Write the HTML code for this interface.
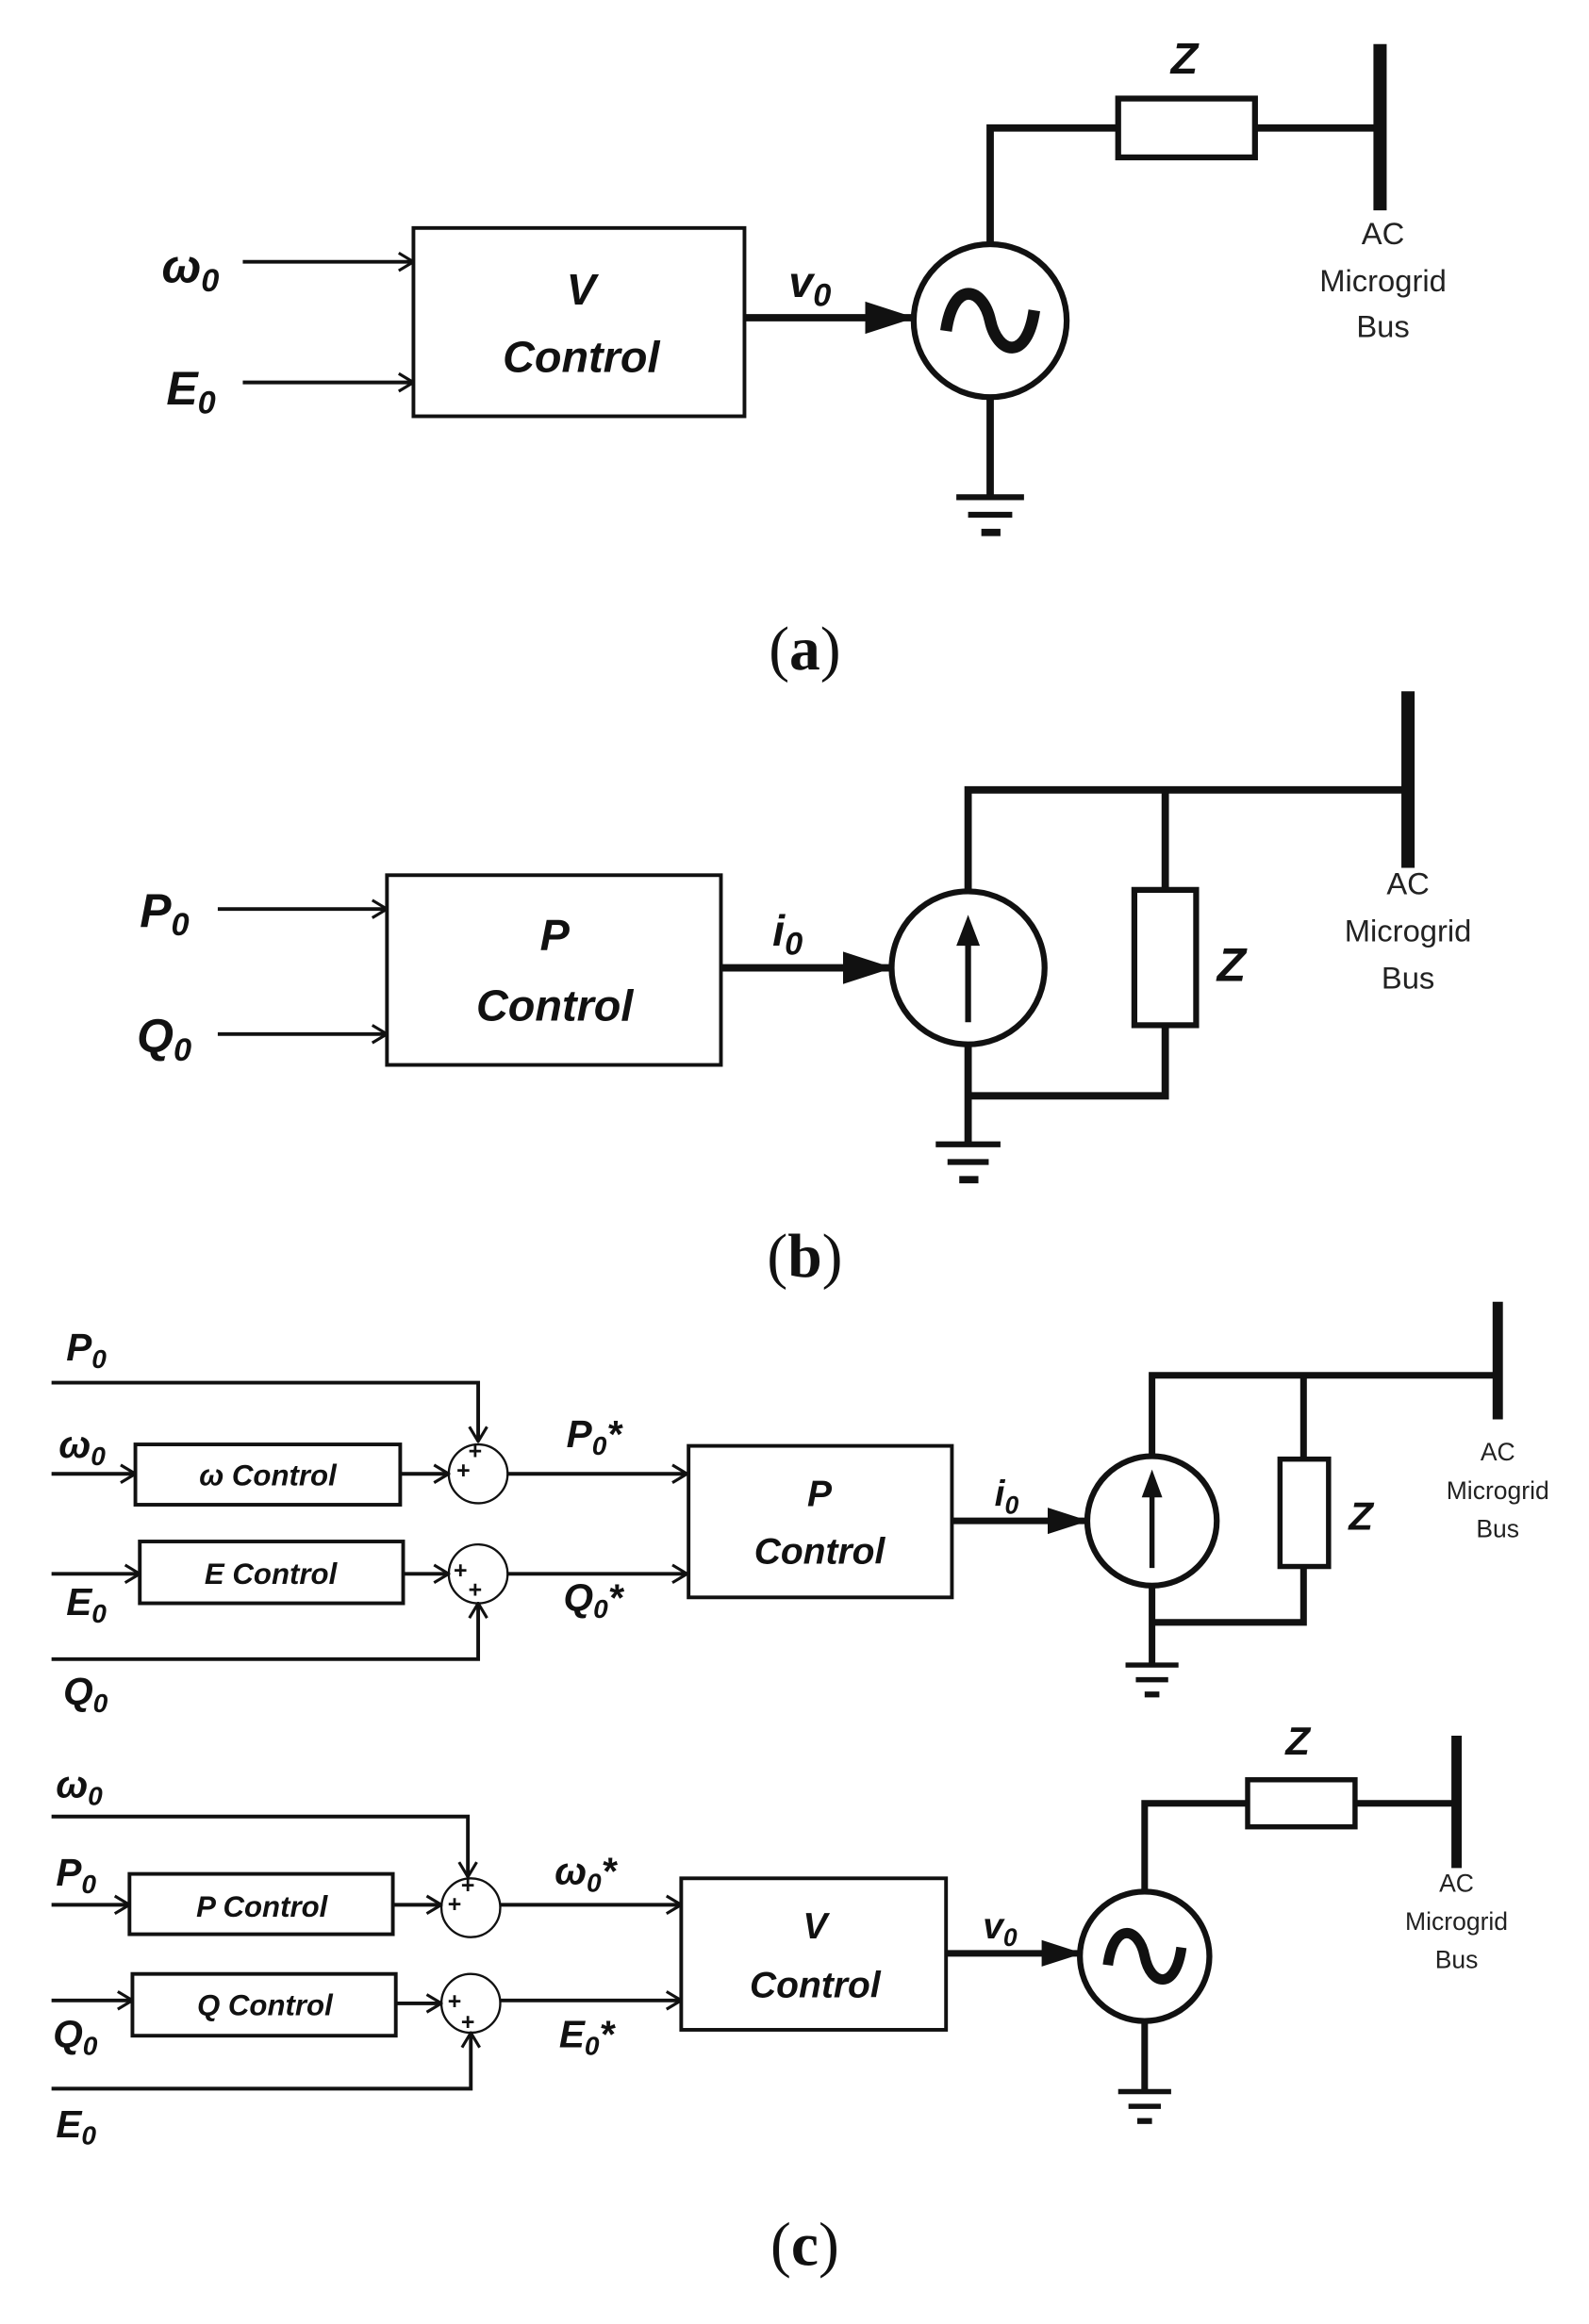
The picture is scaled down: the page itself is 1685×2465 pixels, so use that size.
<!DOCTYPE html>
<html><head><meta charset="utf-8"><style>
html,body{margin:0;padding:0;background:#fff}
svg{display:block}
text{font-family:"Liberation Sans",sans-serif;font-weight:bold;font-style:italic;fill:#111}
.t{font-weight:normal;font-style:normal;fill:#222}
.s{font-family:"Liberation Serif",serif;font-style:normal;font-weight:normal}
</style></head><body>
<svg width="1685" height="2465" viewBox="0 0 1080 1580" xmlns="http://www.w3.org/2000/svg">
<defs>
<marker id="op" markerWidth="12" markerHeight="14" refX="11" refY="7" orient="auto" markerUnits="userSpaceOnUse">
<path d="M1,1 L11,7 L1,13" fill="none" stroke="#111" stroke-width="2"/></marker>
<marker id="fl" markerWidth="34" markerHeight="24" refX="33" refY="12" orient="auto" markerUnits="userSpaceOnUse">
<path d="M0,1 L34,12 L0,23 Z" fill="#111"/></marker>
<marker id="fs" markerWidth="28" markerHeight="20" refX="27" refY="10" orient="auto" markerUnits="userSpaceOnUse">
<path d="M0,1 L28,10 L0,19 Z" fill="#111"/></marker>
</defs>
<g stroke="#111" fill="none">
<!-- (a) -->
<line x1="165" y1="178" x2="281" y2="178" stroke-width="2.5" marker-end="url(#op)"/>
<line x1="165" y1="260" x2="281" y2="260" stroke-width="2.5" marker-end="url(#op)"/>
<rect x="281" y="155" width="225" height="128" stroke-width="2.5"/>
<line x1="506" y1="216" x2="621" y2="216" stroke-width="5" marker-end="url(#fl)"/>
<circle cx="673" cy="218" r="52" stroke-width="4"/>
<path d="M643,225 C648,190 668,195 673,218 C678,241 698,246 703,211" stroke-width="8"/>
<polyline points="673,166 673,87 760,87" stroke-width="5"/>
<rect x="760" y="67" width="93" height="40" stroke-width="4"/>
<line x1="853" y1="87" x2="938" y2="87" stroke-width="5"/>
<line x1="938" y1="30" x2="938" y2="143" stroke-width="9"/>
<line x1="673" y1="270" x2="673" y2="337" stroke-width="5"/>
<line x1="650" y1="338" x2="696" y2="338" stroke-width="4"/>
<line x1="658" y1="350" x2="688" y2="350" stroke-width="4"/>
<line x1="667" y1="362" x2="680" y2="362" stroke-width="5"/>
<!-- (b) -->
<line x1="148" y1="618" x2="263" y2="618" stroke-width="2.5" marker-end="url(#op)"/>
<line x1="148" y1="703" x2="263" y2="703" stroke-width="2.5" marker-end="url(#op)"/>
<rect x="263" y="595" width="227" height="129" stroke-width="2.5"/>
<line x1="490" y1="658" x2="606" y2="658" stroke-width="5" marker-end="url(#fl)"/>
<circle cx="658" cy="658" r="52" stroke-width="4"/>
<line x1="658" y1="695" x2="658" y2="640" stroke-width="4"/>
<path d="M650,643 L658,622 L666,643 Z" fill="#111" stroke="none"/>
<polyline points="658,606 658,537 957,537" stroke-width="5"/>
<line x1="957" y1="470" x2="957" y2="590" stroke-width="9"/>
<line x1="792" y1="537" x2="792" y2="605" stroke-width="5"/>
<rect x="771" y="605" width="42" height="92" stroke-width="4"/>
<polyline points="792,697 792,745 658,745" stroke-width="5"/>
<line x1="658" y1="710" x2="658" y2="777" stroke-width="5"/>
<line x1="636" y1="778" x2="680" y2="778" stroke-width="4"/>
<line x1="644" y1="790" x2="672" y2="790" stroke-width="4"/>
<line x1="652" y1="802" x2="665" y2="802" stroke-width="5"/>
<!-- (c) top -->
<polyline points="35,940 325,940 325,980" stroke-width="2.5" marker-end="url(#op)"/>
<line x1="35" y1="1002" x2="92" y2="1002" stroke-width="2.5" marker-end="url(#op)"/>
<rect x="92" y="982" width="180" height="41" stroke-width="2.5"/>
<line x1="272" y1="1002" x2="305" y2="1002" stroke-width="2.5" marker-end="url(#op)"/>
<circle cx="325" cy="1002" r="20" stroke-width="1.5"/>
<line x1="345" y1="1002" x2="467" y2="1002" stroke-width="2.5" marker-end="url(#op)"/>
<line x1="35" y1="1070" x2="95" y2="1070" stroke-width="2.5" marker-end="url(#op)"/>
<rect x="95" y="1048" width="179" height="42" stroke-width="2.5"/>
<line x1="274" y1="1070" x2="305" y2="1070" stroke-width="2.5" marker-end="url(#op)"/>
<circle cx="325" cy="1070" r="20" stroke-width="1.5"/>
<polyline points="35,1128 325,1128 325,1090" stroke-width="2.5" marker-end="url(#op)"/>
<line x1="345" y1="1070" x2="467" y2="1070" stroke-width="2.5" marker-end="url(#op)"/>
<rect x="468" y="983" width="179" height="103" stroke-width="2.5"/>
<line x1="647" y1="1034" x2="739" y2="1034" stroke-width="4.5" marker-end="url(#fs)"/>
<circle cx="783" cy="1034" r="44" stroke-width="4"/>
<line x1="783" y1="1066" x2="783" y2="1015" stroke-width="3.5"/>
<path d="M776,1018 L783,999 L790,1018 Z" fill="#111" stroke="none"/>
<polyline points="783,990 783,935 1018,935" stroke-width="4.5"/>
<line x1="1018" y1="885" x2="1018" y2="965" stroke-width="7"/>
<line x1="886" y1="935" x2="886" y2="992" stroke-width="4.5"/>
<rect x="870" y="992" width="33" height="73" stroke-width="3.5"/>
<polyline points="886,1065 886,1103 783,1103" stroke-width="4.5"/>
<line x1="783" y1="1078" x2="783" y2="1132" stroke-width="4.5"/>
<line x1="765" y1="1132" x2="801" y2="1132" stroke-width="3.5"/>
<line x1="772" y1="1142" x2="794" y2="1142" stroke-width="3.5"/>
<line x1="778" y1="1152" x2="788" y2="1152" stroke-width="4"/>
<!-- (c) bottom -->
<polyline points="35,1235 318,1235 318,1276" stroke-width="2.5" marker-end="url(#op)"/>
<line x1="35" y1="1295" x2="88" y2="1295" stroke-width="2.5" marker-end="url(#op)"/>
<rect x="88" y="1274" width="179" height="41" stroke-width="2.5"/>
<line x1="267" y1="1295" x2="300" y2="1295" stroke-width="2.5" marker-end="url(#op)"/>
<circle cx="320" cy="1297" r="20" stroke-width="1.5"/>
<line x1="340" y1="1295" x2="463" y2="1295" stroke-width="2.5" marker-end="url(#op)"/>
<line x1="35" y1="1360" x2="90" y2="1360" stroke-width="2.5" marker-end="url(#op)"/>
<rect x="90" y="1342" width="179" height="42" stroke-width="2.5"/>
<line x1="269" y1="1362" x2="300" y2="1362" stroke-width="2.5" marker-end="url(#op)"/>
<circle cx="320" cy="1362" r="20" stroke-width="1.5"/>
<polyline points="35,1420 320,1420 320,1382" stroke-width="2.5" marker-end="url(#op)"/>
<line x1="340" y1="1360" x2="463" y2="1360" stroke-width="2.5" marker-end="url(#op)"/>
<rect x="463" y="1277" width="180" height="103" stroke-width="2.5"/>
<line x1="643" y1="1328" x2="735" y2="1328" stroke-width="4.5" marker-end="url(#fs)"/>
<circle cx="778" cy="1330" r="44" stroke-width="4"/>
<path d="M753,1336 C757,1306 774,1310 778,1330 C782,1350 799,1354 803,1324" stroke-width="7"/>
<polyline points="778,1286 778,1226 848,1226" stroke-width="4.5"/>
<rect x="848" y="1210" width="73" height="32" stroke-width="3.5"/>
<line x1="921" y1="1226" x2="990" y2="1226" stroke-width="4.5"/>
<line x1="990" y1="1180" x2="990" y2="1270" stroke-width="7"/>
<line x1="778" y1="1374" x2="778" y2="1422" stroke-width="4.5"/>
<line x1="760" y1="1422" x2="796" y2="1422" stroke-width="3.5"/>
<line x1="767" y1="1432" x2="789" y2="1432" stroke-width="3.5"/>
<line x1="773" y1="1442" x2="783" y2="1442" stroke-width="4"/>
</g>
<!-- text (a) -->
<text x="110" y="192" font-size="32">ω<tspan font-size="22" dy="6">0</tspan></text>
<text x="113" y="275" font-size="32">E<tspan font-size="22" dy="6">0</tspan></text>
<text x="395" y="207" font-size="30" text-anchor="middle">V</text>
<text x="395" y="253" font-size="30" text-anchor="middle">Control</text>
<text x="536" y="202" font-size="30">v<tspan font-size="22" dy="6">0</tspan></text>
<text x="805" y="50" font-size="30" text-anchor="middle">Z</text>
<g class="t" font-size="21" text-anchor="middle">
<text class="t" x="940" y="166">AC</text><text class="t" x="940" y="198">Microgrid</text><text class="t" x="940" y="229">Bus</text>
<text class="t" x="957" y="608">AC</text><text class="t" x="957" y="640">Microgrid</text><text class="t" x="957" y="672">Bus</text>
</g>
<text class="s" x="547" y="455" font-size="42" text-anchor="middle">(<tspan font-weight="bold">a</tspan>)</text>
<!-- (b) -->
<text x="95" y="630" font-size="32">P<tspan font-size="22" dy="6">0</tspan></text>
<text x="93" y="715" font-size="32">Q<tspan font-size="22" dy="6">0</tspan></text>
<text x="377" y="646" font-size="30" text-anchor="middle">P</text>
<text x="377" y="694" font-size="30" text-anchor="middle">Control</text>
<text x="525" y="643" font-size="30">i<tspan font-size="22" dy="6">0</tspan></text>
<text x="837" y="667" font-size="32" text-anchor="middle">Z</text>
<text class="s" x="547" y="868" font-size="42" text-anchor="middle">(<tspan font-weight="bold">b</tspan>)</text>
<!-- (c) top -->
<text x="45" y="925" font-size="26">P<tspan font-size="18" dy="5">0</tspan></text>
<text x="40" y="991" font-size="26">ω<tspan font-size="18" dy="5">0</tspan></text>
<text x="182" y="1010" font-size="20" text-anchor="middle">ω Control</text>
<text x="184" y="1077" font-size="20" text-anchor="middle">E Control</text>
<text x="45" y="1098" font-size="26">E<tspan font-size="18" dy="5">0</tspan></text>
<text x="43" y="1159" font-size="26">Q<tspan font-size="18" dy="5">0</tspan></text>
<text x="385" y="984" font-size="26">P<tspan font-size="18" dy="5">0</tspan><tspan dy="-5">*</tspan></text>
<text x="383" y="1095" font-size="26">Q<tspan font-size="18" dy="5">0</tspan><tspan dy="-5">*</tspan></text>
<g font-size="16"><text x="310" y="1005">+</text><text x="318" y="992">+</text><text x="308" y="1073">+</text><text x="318" y="1086">+</text>
<text x="304" y="1300">+</text><text x="313" y="1287">+</text><text x="304" y="1366">+</text><text x="313" y="1380">+</text></g>
<text x="557" y="1024" font-size="25" text-anchor="middle">P</text>
<text x="557" y="1063" font-size="25" text-anchor="middle">Control</text>
<text x="676" y="1024" font-size="25">i<tspan font-size="17" dy="5">0</tspan></text>
<text x="925" y="1040" font-size="27" text-anchor="middle">Z</text>
<g font-size="17" text-anchor="middle">
<text class="t" x="1018" y="993" fill="#555">AC</text><text class="t" x="1018" y="1019">Microgrid</text><text class="t" x="1018" y="1045">Bus</text>
<text class="t" x="990" y="1286">AC</text><text class="t" x="990" y="1312">Microgrid</text><text class="t" x="990" y="1338">Bus</text>
</g>
<!-- (c) bottom -->
<text x="38" y="1222" font-size="26">ω<tspan font-size="18" dy="5">0</tspan></text>
<text x="38" y="1282" font-size="26">P<tspan font-size="18" dy="5">0</tspan></text>
<text x="178" y="1303" font-size="20" text-anchor="middle">P Control</text>
<text x="180" y="1370" font-size="20" text-anchor="middle">Q Control</text>
<text x="36" y="1392" font-size="26">Q<tspan font-size="18" dy="5">0</tspan></text>
<text x="38" y="1453" font-size="26">E<tspan font-size="18" dy="5">0</tspan></text>
<text x="377" y="1281" font-size="26">ω<tspan font-size="18" dy="5">0</tspan><tspan dy="-5">*</tspan></text>
<text x="380" y="1392" font-size="26">E<tspan font-size="18" dy="5">0</tspan><tspan dy="-5">*</tspan></text>
<text x="554" y="1318" font-size="25" text-anchor="middle">V</text>
<text x="554" y="1358" font-size="25" text-anchor="middle">Control</text>
<text x="668" y="1318" font-size="25">v<tspan font-size="17" dy="5">0</tspan></text>
<text x="882" y="1193" font-size="27" text-anchor="middle">Z</text>
<text class="s" x="547" y="1540" font-size="42" text-anchor="middle">(<tspan font-weight="bold">c</tspan>)</text>
</svg>
</body></html>
